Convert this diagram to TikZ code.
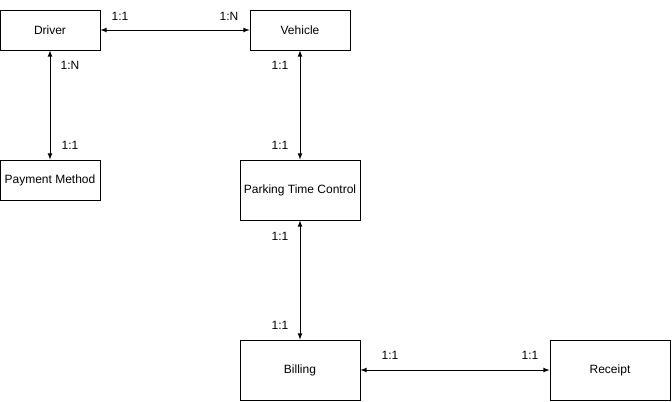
\documentclass[tikz,border=0pt]{standalone}
\usepackage{fontspec}
\setmainfont{Liberation Sans}
\usetikzlibrary{arrows,positioning}

\begin{document}
\begin{tikzpicture} [
    x = 0.75pt, y = -0.75pt,
    inner sep = 0,
    every node/.style = { font = \fontsize{9}{11}\selectfont },
    entity/.style = { draw, semithick, rectangle, minimum width = 75pt, minimum height = 30pt },
    bigentity/.style = { entity, minimum width = 90pt, minimum height = 45pt },
    link/.style = { semithick, latex-latex }
    ]
    \useasboundingbox (0,0) rectangle (672,401);

    \node[entity] (driver) at (50,30) {Driver};
    \node[entity] (vehicle) at (300,30) {Vehicle};
    \node[entity] (payment) at (50,180) {Payment Method};
    \node[bigentity] (ptc) at (300,190) {Parking Time Control};
    \node[bigentity] (billing) at (300,370) {Billing};
    \node[bigentity] (receipt) at (610,370) {Receipt};

    \draw[link] (driver) -- (vehicle);
    \draw[link] (driver) -- (payment);
    \draw[link] (vehicle) -- (ptc);
    \draw[link] (ptc) -- (billing);
    \draw[link] (billing) -- (receipt);

    \node (c1) at (120,16) {1:1};
    \node (c2) at (229,16) {1:N};
    \node (c3) at (70,65) {1:N};
    \node (c4) at (70,145) {1:1};
    \node (c5) at (280,65) {1:1};
    \node (c6) at (280,145) {1:1};
    \node (c7) at (280,236) {1:1};
    \node (c8) at (280,325) {1:1};
    \node (c9) at (390,355) {1:1};
    \node (c10) at (530,355) {1:1};
\end{tikzpicture}
\end{document}
